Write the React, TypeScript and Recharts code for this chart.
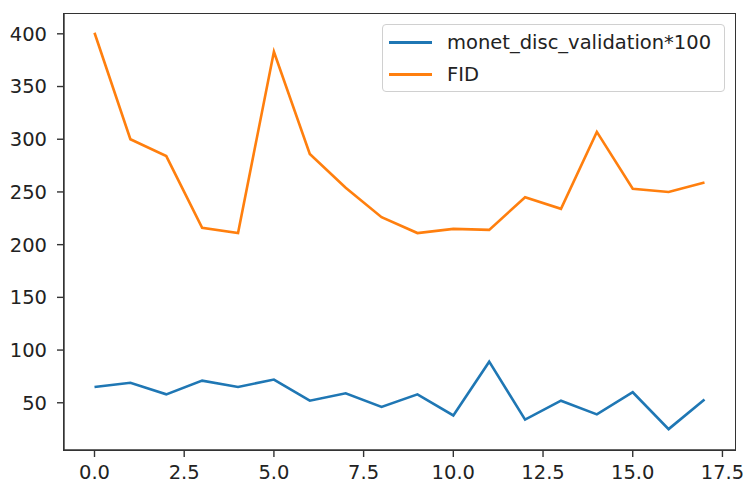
import { LineChart, Line, XAxis, YAxis } from "recharts";

const epochs = [0, 1, 2, 3, 4, 5, 6, 7, 8, 9, 10, 11, 12, 13, 14, 15, 16, 17];
const discValidation = [65, 69, 58, 71, 65, 72, 52, 59, 46, 58, 38, 89, 34, 52, 39, 60, 25, 53];
const fid = [401, 300, 284, 216, 211, 383, 286, 254, 226, 211, 215, 214, 245, 234, 307, 253, 250, 259];
const xTicks = [0, 2.5, 5, 7.5, 10, 12.5, 15, 17.5];
const yTicks = [50, 100, 150, 200, 250, 300, 350, 400];

const data = epochs.map((e, i) => ({ epoch: e, disc: discValidation[i], fid: fid[i] }));

const font = "'DejaVu Sans', sans-serif";
const tickStyle = { fill: "#222", fontSize: 19.5, fontFamily: font };

function LegendBox() {
  const items = [
    { label: "monet_disc_validation*100", color: "#1f77b4" },
    { label: "FID", color: "#ff7f0e" },
  ];
  return (
    <div
      style={{
        position: "absolute",
        left: 382,
        top: 24,
        boxSizing: "border-box",
        width: 343,
        height: 68,
        border: "1px solid #d0d0d0",
        borderRadius: 4,
        background: "#fff",
        padding: "1px 6px",
        fontFamily: font,
        fontSize: 19.5,
        color: "#222",
      }}
    >
      {items.map((it) => (
        <div key={it.label} style={{ display: "flex", alignItems: "center", height: 32 }}>
          <div style={{ width: 43, height: 3, background: it.color, marginRight: 15 }} />
          <span>{it.label}</span>
        </div>
      ))}
    </div>
  );
}

export default function App() {
  return (
    <div style={{ position: "absolute", left: 0, top: 0, width: 743, height: 483, background: "#fff" }}>
      <LineChart width={743} height={483} data={data} margin={{ top: 14, right: 8, bottom: 0, left: 0 }}>
        <XAxis
          dataKey="epoch"
          type="number"
          domain={[-0.85, 17.85]}
          ticks={xTicks}
          tickFormatter={(v) => v.toFixed(1)}
          allowDataOverflow
          height={33}
          tickSize={7}
          tickMargin={8}
          stroke="#333"
          strokeWidth={1.4}
          tick={tickStyle}
          interval={0}
        />
        <YAxis
          type="number"
          domain={[5.2, 418.8]}
          ticks={yTicks}
          allowDataOverflow
          width={64}
          tickSize={7}
          tickMargin={10}
          stroke="#333"
          strokeWidth={1.4}
          tick={tickStyle}
          interval={0}
        />
        <Line
          dataKey="disc"
          stroke="#1f77b4"
          strokeWidth={2.6}
          dot={false}
          isAnimationActive={false}
        />
        <Line
          dataKey="fid"
          stroke="#ff7f0e"
          strokeWidth={2.6}
          dot={false}
          isAnimationActive={false}
        />
      </LineChart>
      {/* full frame around the plot area, like matplotlib spines */}
      <div
        style={{
          position: "absolute",
          left: 63.3,
          top: 13.3,
          width: 671,
          height: 436,
          border: "1.4px solid #333",
          pointerEvents: "none",
        }}
      />
      <LegendBox />
    </div>
  );
}
